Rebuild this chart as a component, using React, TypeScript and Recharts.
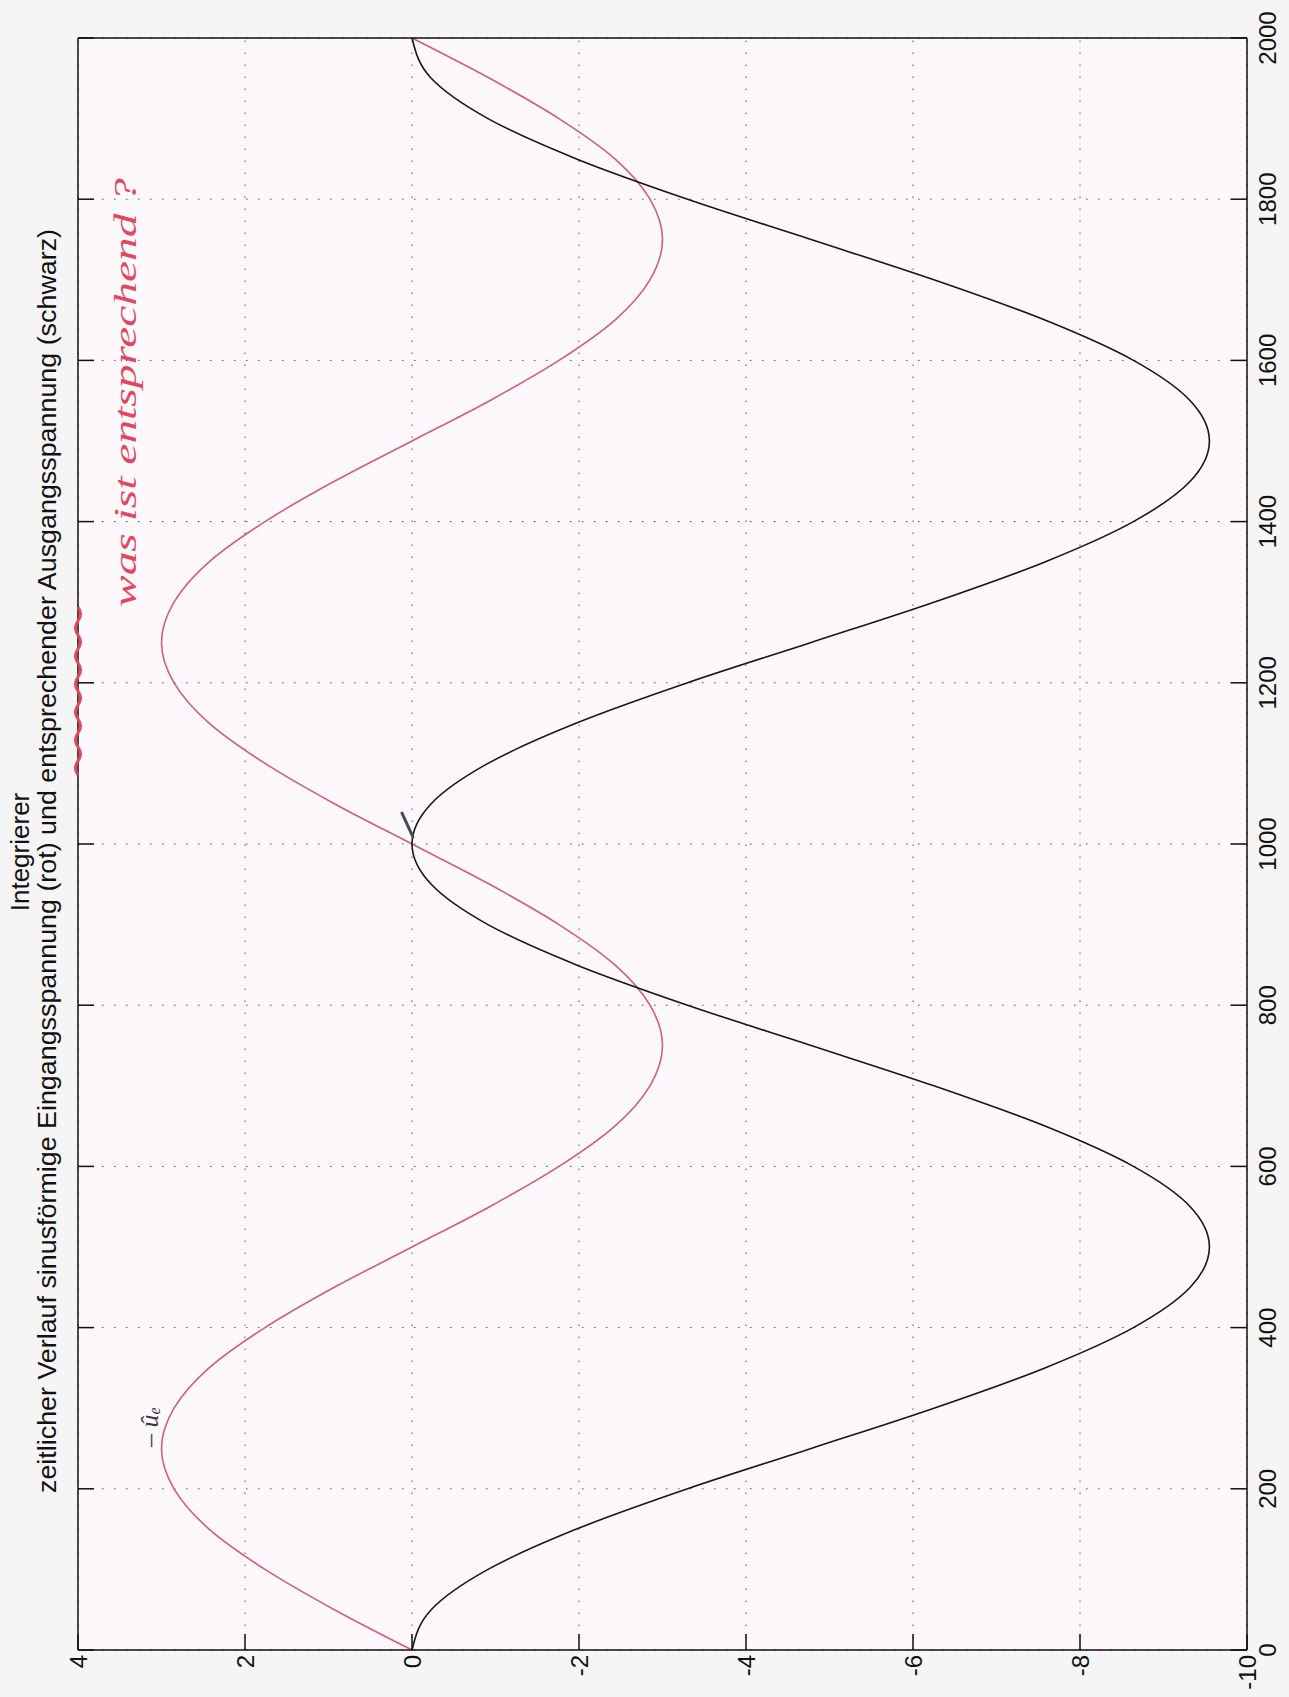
import React from "react";
import { LineChart, Line, XAxis, YAxis, CartesianGrid } from "recharts";

// time axis (printed vertically on the page, 0 at the bottom)
const zeit = [
  0, 50, 100, 150, 200, 250, 300, 350, 400, 450, 500, 550, 600, 650, 700, 750, 800, 850, 900, 950,
  1000, 1050, 1100, 1150, 1200, 1250, 1300, 1350, 1400, 1450, 1500, 1550, 1600, 1650, 1700, 1750,
  1800, 1850, 1900, 1950, 2000,
];

// red: sinusoidal input voltage
const eingang = [
  0, 0.93, 1.76, 2.43, 2.85, 3.0, 2.85, 2.43, 1.76, 0.93, 0, -0.93, -1.76, -2.43, -2.85, -3.0, -2.85,
  -2.43, -1.76, -0.93, 0, 0.93, 1.76, 2.43, 2.85, 3.0, 2.85, 2.43, 1.76, 0.93, 0, -0.93, -1.76, -2.43,
  -2.85, -3.0, -2.85, -2.43, -1.76, -0.93, 0,
];

// black: integrator output
const ausgang = [
  0, -0.23, -0.91, -1.97, -3.3, -4.78, -6.25, -7.58, -8.64, -9.32, -9.55, -9.32, -8.64, -7.58, -6.25,
  -4.78, -3.3, -1.97, -0.91, -0.23, 0, -0.23, -0.91, -1.97, -3.3, -4.78, -6.25, -7.58, -8.64, -9.32,
  -9.55, -9.32, -8.64, -7.58, -6.25, -4.78, -3.3, -1.97, -0.91, -0.23, 0,
];

const zeitTicks = [0, 200, 400, 600, 800, 1000, 1200, 1400, 1600, 1800, 2000];
const wertTicks = [-10, -8, -6, -4, -2, 0, 2, 4];

const titel1 = "Integrierer";
const titel2 =
  "zeitlicher Verlauf sinusförmige Eingangsspannung (rot) und entsprechender Ausgangsspannung (schwarz)";

const data = zeit.map((t, i) => ({ t, ein: eingang[i], aus: ausgang[i] }));

// landscape size, the whole figure is turned by -90deg like the printout
const W = 1697;
const H = 1289;
const font = "'Liberation Sans', Arial, sans-serif";
const TICK = 16;

// matlab style: tick marks point into the box
const BottomTick = (p: any) => (
  <g>
    <line x1={p.x} y1={p.y} x2={p.x} y2={p.y - TICK} stroke="#111" strokeWidth={1.5} />
    <text x={p.x} y={p.y + 12} dy="0.72em" textAnchor="middle" fontSize={24} fontFamily={font} fill="#111">
      {p.payload.value}
    </text>
  </g>
);
const LeftTick = (p: any) => (
  <g>
    <line x1={p.x} y1={p.y} x2={p.x + TICK} y2={p.y} stroke="#111" strokeWidth={1.5} />
    <text x={p.x - 5} y={p.y} dy="0.36em" textAnchor="end" fontSize={24} fontFamily={font} fill="#111">
      {p.payload.value}
    </text>
  </g>
);
const TopTick = (p: any) => (
  <line x1={p.x} y1={p.y} x2={p.x} y2={p.y + TICK} stroke="#111" strokeWidth={1.5} />
);
const RightTick = (p: any) => (
  <line x1={p.x} y1={p.y} x2={p.x - TICK} y2={p.y} stroke="#111" strokeWidth={1.5} />
);

export default function App() {
  return (
    <div
      style={{
        position: "absolute",
        left: 0,
        top: 0,
        width: H,
        height: W,
        background: "#f6f5f6",
        overflow: "hidden",
      }}
    >
      <div
        style={{
          position: "absolute",
          left: 0,
          top: 0,
          width: W,
          height: H,
          transformOrigin: "0 0",
          transform: `translate(0px, ${W}px) rotate(-90deg)`,
        }}
      >
        <LineChart width={W} height={H} data={data} margin={{ top: 77, right: 37, bottom: 0, left: 0 }}>
          <CartesianGrid stroke="#555" strokeDasharray="1.5 10.5" fill="#fcf8fc" fillOpacity={1} />
          <XAxis
            dataKey="t"
            type="number"
            domain={[0, 2000]}
            ticks={zeitTicks}
            interval={0}
            height={42}
            tickSize={0}
            tickMargin={0}
            tickLine={false}
            tick={BottomTick}
            axisLine={{ stroke: "#111", strokeWidth: 1.5 }}
          />
          <XAxis
            xAxisId="oben"
            dataKey="t"
            type="number"
            orientation="top"
            domain={[0, 2000]}
            ticks={zeitTicks}
            interval={0}
            height={1}
            tickSize={0}
            tickMargin={0}
            tickLine={false}
            tick={TopTick}
            axisLine={{ stroke: "#111", strokeWidth: 1.5 }}
          />
          <YAxis
            type="number"
            domain={[-10, 4]}
            ticks={wertTicks}
            interval={0}
            width={47}
            tickSize={0}
            tickMargin={0}
            tickLine={false}
            tick={LeftTick}
            axisLine={{ stroke: "#111", strokeWidth: 1.5 }}
          />
          <YAxis
            yAxisId="rechts"
            type="number"
            orientation="right"
            domain={[-10, 4]}
            ticks={wertTicks}
            interval={0}
            width={1}
            tickSize={0}
            tickMargin={0}
            tickLine={false}
            tick={RightTick}
            axisLine={{ stroke: "#111", strokeWidth: 1.5 }}
          />
          <Line
            dataKey="ein"
            type="monotone"
            stroke="#d4606e"
            strokeWidth={1.6}
            dot={false}
            isAnimationActive={false}
          />
          <Line
            dataKey="aus"
            type="monotone"
            stroke="#161616"
            strokeWidth={1.6}
            dot={false}
            isAnimationActive={false}
          />
        </LineChart>

        {/* title and the handwritten notes */}
        <svg
          width={W}
          height={H}
          style={{ position: "absolute", left: 0, top: 0, pointerEvents: "none" }}
        >
          <text x={845} y={29} textAnchor="middle" fontSize={26} fontFamily={font} fill="#111">
            {titel1}
          </text>
          <text
            x={836}
            y={56}
            textAnchor="middle"
            fontSize={26}
            fontFamily={font}
            fill="#111"
            textLength={1264}
            lengthAdjust="spacingAndGlyphs"
          >
            {titel2}
          </text>
          <path
            d="M922 78 q7 -5 14 0 t14 0 t14 0 t14 0 t14 0 t14 0 t14 0 t14 0 t14 0 t14 0 t14 0 t14 0"
            fill="none"
            stroke="#e2475f"
            strokeWidth={3}
          />
          <text
            x={1090}
            y={136}
            fontSize={32}
            fontStyle="italic"
            fontFamily="'Liberation Serif', serif"
            fill="#e2475f"
            textLength={429}
            lengthAdjust="spacingAndGlyphs"
          >
            was ist entsprechend ?
          </text>
          <text x={250} y={158} fontSize={26} fontStyle="italic" fontFamily="'Liberation Serif', serif" fill="#3a3a44">
            – û<tspan fontSize={16} dy={2}>e</tspan>
          </text>
          <line x1={884} y1={402} x2={860} y2={413} stroke="#4a4a55" strokeWidth={3} strokeLinecap="round" />
        </svg>
      </div>
    </div>
  );
}
